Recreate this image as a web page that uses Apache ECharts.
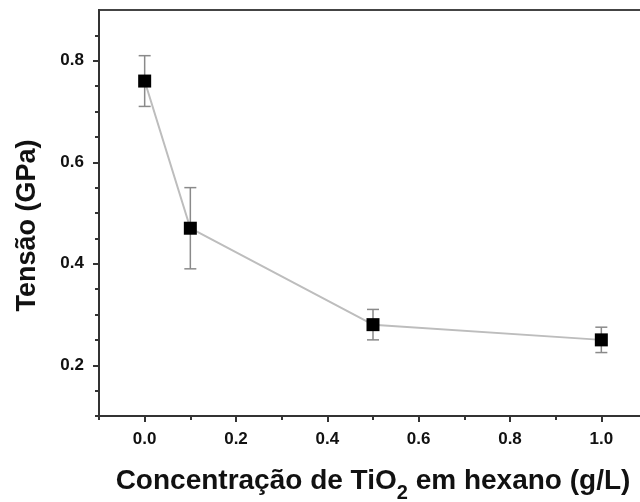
<!DOCTYPE html>
<html>
<head>
<meta charset="utf-8">
<script src="https://cdn.jsdelivr.net/npm/echarts@6/dist/echarts.min.js"></script>
<style>
  html, body { margin: 0; padding: 0; background: #ffffff; }
  #chart { width: 640px; height: 502px; }
</style>
</head>
<body>
<div id="chart"></div>
<script>
// Tensile stress versus TiO2 concentration in hexane
const concentration = [0.0, 0.1, 0.5, 1.0];
const tension = [0.76, 0.47, 0.28, 0.25];
const tensionError = [0.05, 0.08, 0.03, 0.025];

const xMajorTicks = [0.0, 0.2, 0.4, 0.6, 0.8, 1.0];
const xMinorTicks = [-0.1, 0.1, 0.3, 0.5, 0.7, 0.9];
const yMajorTicks = [0.2, 0.4, 0.6, 0.8];
const yMinorTicks = [0.1, 0.15, 0.25, 0.3, 0.35, 0.45, 0.5, 0.55, 0.65, 0.7, 0.75, 0.85];

const FONT = "'Liberation Sans', Arial, Helvetica, sans-serif";
const AXIS_COLOR = '#333333';

const points = concentration.map((c, i) => [c, tension[i]]);
const errorBars = concentration.map((c, i) => [c, tension[i] - tensionError[i], tension[i] + tensionError[i]]);

const chart = echarts.init(document.getElementById('chart'), null, { renderer: 'canvas' });

function majorAxis(extra) {
  return Object.assign({
    type: 'value',
    axisLine: { show: true, onZero: false, lineStyle: { color: AXIS_COLOR, width: 2 } },
    splitLine: { show: false }
  }, extra);
}

function minorAxis(extra) {
  return Object.assign({
    type: 'value',
    axisLine: { show: false, onZero: false },
    splitLine: { show: false },
    axisLabel: { show: false }
  }, extra);
}

chart.setOption({
  animation: false,
  backgroundColor: '#ffffff',
  grid: {
    left: 99, right: -7, top: 10, bottom: 86,
    containLabel: false,
    outerBoundsMode: 'none',
    show: true, borderColor: '#444444', borderWidth: 2, backgroundColor: 'transparent'
  },
  xAxis: [
    majorAxis({
      min: -0.1, max: 1.1,
      name: '{m|Concentração de TiO}{s|2}{m| em hexano (g/L)}',
      nameLocation: 'middle',
      nameGap: 51,
      nameTextStyle: {
        rich: {
          m: { fontFamily: FONT, fontWeight: 'bold', fontSize: 28, lineHeight: 30, color: '#111111', verticalAlign: 'top' },
          s: { fontFamily: FONT, fontWeight: 'bold', fontSize: 20, lineHeight: 20, color: '#111111', verticalAlign: 'top', padding: [16, 0, 0, 0] }
        }
      },
      axisTick: { show: true, inside: false, length: 6, customValues: xMajorTicks, lineStyle: { color: AXIS_COLOR, width: 2 } },
      axisLabel: {
        fontFamily: FONT, fontWeight: 'bold', fontSize: 17, color: '#111111', margin: 15,
        customValues: xMajorTicks, formatter: v => v.toFixed(1)
      }
    }),
    minorAxis({
      min: -0.1, max: 1.1, position: 'bottom',
      axisTick: { show: true, inside: false, length: 4, customValues: xMinorTicks, lineStyle: { color: AXIS_COLOR, width: 2 } }
    })
  ],
  yAxis: [
    majorAxis({
      min: 0.1, max: 0.9,
      name: 'Tensão (GPa)',
      nameLocation: 'middle',
      nameGap: 58,
      nameTextStyle: {
        fontFamily: FONT, fontWeight: 'bold', fontSize: 27, color: '#111111',
        padding: [0, 25, 0, 0]
      },
      axisTick: { show: true, inside: false, length: 6, customValues: yMajorTicks, lineStyle: { color: AXIS_COLOR, width: 2 } },
      axisLabel: {
        fontFamily: FONT, fontWeight: 'bold', fontSize: 17, color: '#111111', margin: 15,
        customValues: yMajorTicks, formatter: v => v.toFixed(1)
      }
    }),
    minorAxis({
      min: 0.1, max: 0.9, position: 'left',
      axisTick: { show: true, inside: false, length: 4, customValues: yMinorTicks, lineStyle: { color: AXIS_COLOR, width: 2 } }
    })
  ],
  series: [
    {
      // connecting line
      type: 'line',
      data: points,
      symbol: 'none',
      lineStyle: { color: '#bdbdbd', width: 2 },
      z: 2
    },
    {
      // error bars with caps
      type: 'custom',
      data: errorBars,
      z: 3,
      renderItem: function (params, api) {
        const x = api.value(0);
        const lo = api.coord([x, api.value(1)]);
        const hi = api.coord([x, api.value(2)]);
        const half = 6;
        const style = { stroke: '#8a8a8a', lineWidth: 1.5 };
        return {
          type: 'group',
          children: [
            { type: 'line', shape: { x1: hi[0], y1: hi[1], x2: lo[0], y2: lo[1] }, style: style },
            { type: 'line', shape: { x1: hi[0] - half, y1: hi[1], x2: hi[0] + half, y2: hi[1] }, style: style },
            { type: 'line', shape: { x1: lo[0] - half, y1: lo[1], x2: lo[0] + half, y2: lo[1] }, style: style }
          ]
        };
      }
    },
    {
      // square markers
      type: 'scatter',
      data: points,
      symbol: 'rect',
      symbolSize: 13,
      itemStyle: { color: '#000000', opacity: 1 },
      z: 4
    }
  ]
});
</script>
</body>
</html>
